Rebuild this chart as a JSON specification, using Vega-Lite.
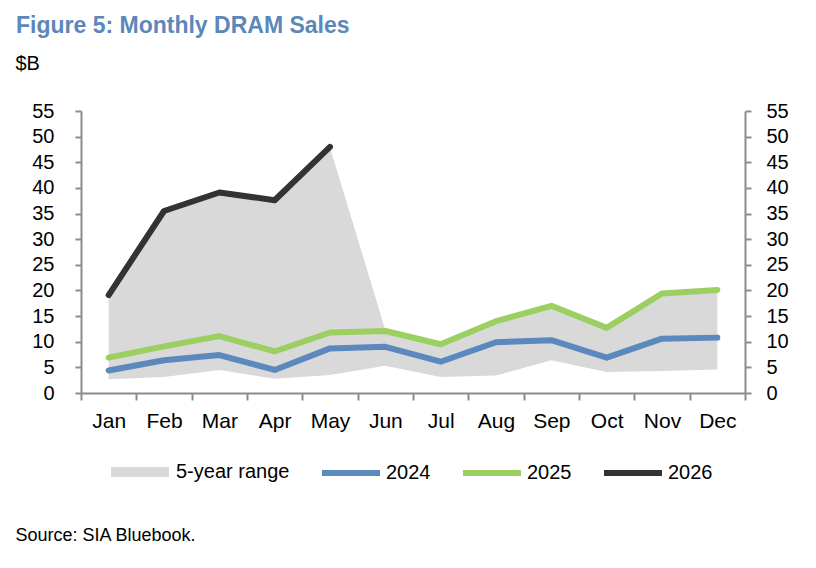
{
  "$schema": "https://vega.github.io/schema/vega-lite/v6.json",
  "width": 664,
  "height": 282,
  "autosize": {"type": "none"},
  "padding": {"left": 81, "top": 111, "right": 71, "bottom": 175},
  "background": "white",
  "title": {
    "text": "Figure 5: Monthly DRAM Sales",
    "anchor": "start",
    "frame": "group",
    "dx": -65,
    "offset": 15,
    "font": "Liberation Sans",
    "fontSize": 23,
    "fontWeight": "bold",
    "color": "#5B87BA"
  },
  "datasets": {
    "range": [
      {"month": "Jan", "lo": 2.7, "hi": 19.0, "label": "5-year range"},
      {"month": "Feb", "lo": 3.1, "hi": 35.4, "label": "5-year range"},
      {"month": "Mar", "lo": 4.5, "hi": 39.0, "label": "5-year range"},
      {"month": "Apr", "lo": 2.8, "hi": 37.5, "label": "5-year range"},
      {"month": "May", "lo": 3.5, "hi": 47.9, "label": "5-year range"},
      {"month": "Jun", "lo": 5.3, "hi": 12.3, "label": "5-year range"},
      {"month": "Jul", "lo": 3.1, "hi": 9.5, "label": "5-year range"},
      {"month": "Aug", "lo": 3.4, "hi": 14.0, "label": "5-year range"},
      {"month": "Sep", "lo": 6.4, "hi": 17.0, "label": "5-year range"},
      {"month": "Oct", "lo": 4.1, "hi": 12.7, "label": "5-year range"},
      {"month": "Nov", "lo": 4.3, "hi": 19.4, "label": "5-year range"},
      {"month": "Dec", "lo": 4.6, "hi": 20.1, "label": "5-year range"}
    ],
    "lines": [
      {"month": "Jan", "series": "2024", "value": 4.4},
      {"month": "Feb", "series": "2024", "value": 6.4},
      {"month": "Mar", "series": "2024", "value": 7.4},
      {"month": "Apr", "series": "2024", "value": 4.5},
      {"month": "May", "series": "2024", "value": 8.7},
      {"month": "Jun", "series": "2024", "value": 9.0},
      {"month": "Jul", "series": "2024", "value": 6.1},
      {"month": "Aug", "series": "2024", "value": 9.9},
      {"month": "Sep", "series": "2024", "value": 10.3},
      {"month": "Oct", "series": "2024", "value": 6.9},
      {"month": "Nov", "series": "2024", "value": 10.6},
      {"month": "Dec", "series": "2024", "value": 10.8},
      {"month": "Jan", "series": "2025", "value": 6.9},
      {"month": "Feb", "series": "2025", "value": 9.1},
      {"month": "Mar", "series": "2025", "value": 11.1},
      {"month": "Apr", "series": "2025", "value": 8.1},
      {"month": "May", "series": "2025", "value": 11.8},
      {"month": "Jun", "series": "2025", "value": 12.1},
      {"month": "Jul", "series": "2025", "value": 9.5},
      {"month": "Aug", "series": "2025", "value": 14.0},
      {"month": "Sep", "series": "2025", "value": 17.0},
      {"month": "Oct", "series": "2025", "value": 12.7},
      {"month": "Nov", "series": "2025", "value": 19.4},
      {"month": "Dec", "series": "2025", "value": 20.1},
      {"month": "Jan", "series": "2026", "value": 19.1},
      {"month": "Feb", "series": "2026", "value": 35.5},
      {"month": "Mar", "series": "2026", "value": 39.1},
      {"month": "Apr", "series": "2026", "value": 37.6},
      {"month": "May", "series": "2026", "value": 48.0}
    ]
  },
  "encoding": {
    "x": {
      "field": "month",
      "type": "ordinal",
      "sort": ["Jan", "Feb", "Mar", "Apr", "May", "Jun", "Jul", "Aug", "Sep", "Oct", "Nov", "Dec"],
      "bandPosition": 0.5,
      "scale": {"type": "band", "paddingInner": 0, "paddingOuter": 0},
      "axis": {
        "title": "Source: SIA Bluebook.",
        "titleX": -66,
        "titleY": 147,
        "titleAlign": "left",
        "titleAnchor": "start",
        "titleBaseline": "alphabetic",
        "titleFont": "Liberation Sans",
        "titleFontSize": 18,
        "titleFontWeight": "normal",
        "titleColor": "black",
        "tickBand": "extent",
        "labelAngle": 0,
        "labelFont": "Liberation Sans",
        "labelFontSize": 21,
        "labelColor": "black",
        "labelPadding": 10,
        "tickSize": 7,
        "tickWidth": 2,
        "tickColor": "#8C8C8C",
        "domainColor": "#8C8C8C",
        "domainWidth": 2,
        "grid": false
      }
    }
  },
  "layer": [
    {
      "data": {"name": "range"},
      "mark": {"type": "area", "interpolate": "linear"},
      "encoding": {
        "y": {
          "field": "lo",
          "type": "quantitative",
          "scale": {"domain": [0, 55], "nice": false, "zero": true},
          "axis": {
            "orient": "left",
            "values": [0, 5, 10, 15, 20, 25, 30, 35, 40, 45, 50, 55],
            "title": "$B",
            "titleAngle": 0,
            "titleX": -66,
            "titleY": -42,
            "titleAlign": "left",
            "titleBaseline": "alphabetic",
            "titleFont": "Liberation Sans",
            "titleFontSize": 20,
            "titleFontWeight": "normal",
            "titleColor": "black",
            "labelFont": "Liberation Sans",
            "labelFontSize": 20,
            "labelColor": "black",
            "labelPadding": 21,
            "tickSize": 6,
            "tickWidth": 2,
            "tickColor": "#8C8C8C",
            "domainColor": "#8C8C8C",
            "domainWidth": 2,
            "grid": false
          }
        },
        "y2": {"field": "hi"},
        "fill": {
          "field": "label",
          "type": "nominal",
          "scale": {"domain": ["5-year range"], "range": ["#D9D9D9"]},
          "legend": {
            "title": null,
            "orient": "none",
            "legendX": 30,
            "legendY": 332,
            "direction": "horizontal",
            "symbolType": "M-1,-0.17H1V0.17H-1Z",
            "symbolSize": 3364,
            "symbolStrokeWidth": 0,
            "symbolOpacity": 1,
            "labelFont": "Liberation Sans",
            "labelFontSize": 20,
            "labelColor": "black",
            "labelOffset": 7,
            "padding": 0
          }
        }
      }
    },
    {
      "data": {"name": "lines"},
      "mark": {"type": "line", "strokeWidth": 6, "strokeCap": "round", "strokeJoin": "round"},
      "encoding": {
        "y": {
          "field": "value",
          "type": "quantitative",
          "scale": {"domain": [0, 55], "nice": false, "zero": true},
          "axis": {
            "orient": "right",
            "values": [0, 5, 10, 15, 20, 25, 30, 35, 40, 45, 50, 55],
            "title": null,
            "labelFont": "Liberation Sans",
            "labelFontSize": 20,
            "labelColor": "black",
            "labelPadding": 15,
            "tickSize": 6,
            "tickWidth": 2,
            "tickColor": "#8C8C8C",
            "domainColor": "#8C8C8C",
            "domainWidth": 2,
            "grid": false
          }
        },
        "color": {
          "field": "series",
          "type": "nominal",
          "scale": {"domain": ["2024", "2025", "2026"], "range": ["#5B88BD", "#9BCF61", "#333333"]},
          "legend": {
            "title": null,
            "orient": "none",
            "legendX": 238,
            "legendY": 330,
            "direction": "horizontal",
            "symbolType": "stroke",
            "symbolSize": 3364,
            "symbolStrokeWidth": 6,
            "labelFont": "Liberation Sans",
            "labelFontSize": 20,
            "labelColor": "black",
            "labelOffset": 3,
            "columnPadding": 20,
            "padding": 0
          }
        }
      }
    }
  ],
  "resolve": {"axis": {"y": "independent"}},
  "config": {"view": {"stroke": null}}
}
